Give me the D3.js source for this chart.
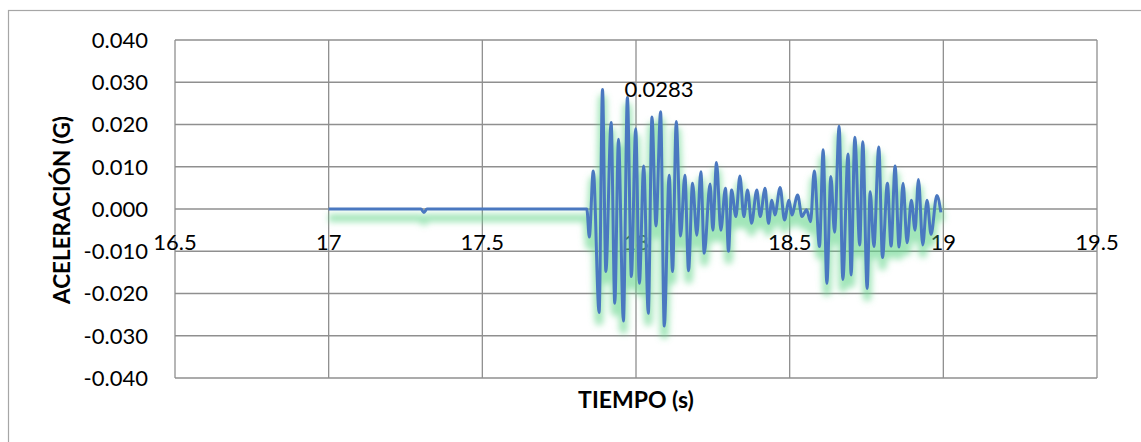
<!DOCTYPE html>
<html>
<head>
<meta charset="utf-8">
<script src="https://cdn.jsdelivr.net/npm/d3@7/dist/d3.min.js"></script>
<style>
html,body{margin:0;padding:0;background:#fff;}
svg{display:block;}
text{font-family:Lato,"Open Sans",sans-serif;fill:#000;}
</style>
</head>
<body>
<svg id="chart" width="1141" height="442"></svg>
<script>
// ---- data ----
const time = [17.000,17.300,17.310,17.320,17.840,17.848,17.861,17.880,17.891,17.902,17.919,17.931,17.943,17.959,17.972,17.985,17.999,18.011,18.025,18.040,18.052,18.065,18.080,18.092,18.108,18.119,18.131,18.145,18.159,18.171,18.184,18.198,18.211,18.222,18.241,18.250,18.262,18.276,18.291,18.301,18.311,18.325,18.338,18.351,18.363,18.376,18.393,18.404,18.420,18.431,18.442,18.452,18.469,18.483,18.498,18.507,18.526,18.540,18.555,18.568,18.580,18.597,18.609,18.621,18.634,18.646,18.661,18.673,18.690,18.700,18.712,18.728,18.738,18.752,18.762,18.774,18.790,18.802,18.818,18.830,18.843,18.856,18.869,18.882,18.896,18.908,18.919,18.933,18.947,18.960,18.979,18.992];
const accel = [0,0,-0.0008,0,0,-0.0066,0.0090,-0.0245,0.0283,-0.0148,0.0205,-0.0223,0.0165,-0.0265,0.0264,-0.0160,0.0190,-0.0176,0.0102,-0.0247,0.0218,-0.0040,0.0230,-0.0277,0.0080,-0.0148,0.0207,-0.0064,0.0080,-0.0146,0.0061,-0.0062,0.0088,-0.0105,0.0059,-0.0050,0.0110,-0.0050,0.0049,-0.0100,0.0045,-0.0018,0.0078,-0.0018,0.0045,-0.0034,0.0045,-0.0018,0.0049,-0.0034,0.0021,-0.0014,0.0051,-0.0026,0.0021,-0.0014,0.0033,-0.0018,-0.0002,-0.0030,0.0090,-0.0089,0.0140,-0.0176,0.0077,-0.0055,0.0196,-0.0167,0.0130,-0.0156,0.0170,-0.0085,0.0159,-0.0188,0.0041,-0.0089,0.0147,-0.0115,0.0061,-0.0088,0.0102,-0.0090,0.0061,-0.0080,0.0021,-0.0050,0.0070,-0.0085,0.0021,-0.0060,0.0032,-0.0008];
const xTicks = [16.5,17,17.5,18,18.5,19,19.5];
const xTickLabels = ["16.5","17","17.5","18","18.5","19","19.5"];
const yTicks = [-0.04,-0.03,-0.02,-0.01,0,0.01,0.02,0.03,0.04];
const yTickLabels = ["-0.040","-0.030","-0.020","-0.010","0.000","0.010","0.020","0.030","0.040"];
const xTitle = "TIEMPO (s)";
const yTitle = "ACELERACIÓN (G)";
const peakLabel = "0.0283";

// ---- layout ----
const svg = d3.select("#chart");
const L = 175, R = 1097, T = 40, B = 378;
const x = d3.scaleLinear().domain([16.5,19.5]).range([L,R]);
const y = d3.scaleLinear().domain([-0.04,0.04]).range([B,T]);
const grid = "#8f8f8f";

// outer chart frame
svg.append("rect").attr("x",8.5).attr("y",10.5).attr("width",1200).attr("height",500)
  .attr("fill","#fff").attr("stroke","#a6a6a6").attr("stroke-width",1.2);

// blur filter for green shadow
const defs = svg.append("defs");
defs.append("filter").attr("id","blur").attr("x","-10%").attr("y","-30%").attr("width","120%").attr("height","160%")
  .append("feGaussianBlur").attr("stdDeviation",3);

// gridlines
const g = svg.append("g");
g.selectAll("line.h").data(yTicks).join("line")
  .attr("x1",L).attr("x2",R).attr("y1",d=>y(d)).attr("y2",d=>y(d))
  .attr("stroke",grid).attr("stroke-width",1.3);
g.selectAll("line.v").data(xTicks).join("line").attr("class","v")
  .attr("y1",T).attr("y2",B).attr("x1",d=>x(d)).attr("x2",d=>x(d))
  .attr("stroke",grid).attr("stroke-width",1.3);

// y tick labels
svg.append("g").selectAll("text").data(yTicks).join("text")
  .attr("x",148).attr("y",d=>y(d)).attr("dy","0.36em")
  .attr("text-anchor","end").style("font-size","22px")
  .text((d,i)=>yTickLabels[i]);

// x tick labels (axis crosses at 0)
svg.append("g").selectAll("text").data(xTicks).join("text")
  .attr("x",d=>x(d)).attr("y",y(0)+41)
  .attr("text-anchor","middle").style("font-size","22px")
  .text((d,i)=>xTickLabels[i]);

// line + green shadow
const pts = time.map((t,i)=>[t,accel[i]]);
const line = d3.line().x(d=>x(d[0])).y(d=>y(d[1])).curve(d3.curveMonotoneX);
svg.append("path").datum(pts).attr("d",line)
  .attr("transform","translate(0,9)")
  .attr("fill","none").attr("stroke","#62d68a").attr("stroke-opacity",0.6).attr("stroke-width",8)
  .attr("stroke-linejoin","round").attr("filter","url(#blur)");
svg.append("path").datum(pts).attr("d",line)
  .attr("fill","none").attr("stroke","#4a78c0").attr("stroke-width",3)
  .attr("stroke-linejoin","round");

// peak label
const imax = d3.maxIndex(accel);
svg.append("text").attr("x",x(time[imax])+22).attr("y",y(accel[imax])).attr("dy","0.36em")
  .style("font-size","22px").text(peakLabel);

// axis titles
svg.append("text").attr("x",636).attr("y",408).attr("text-anchor","middle")
  .style("font-size","23px").style("font-weight","bold").text(xTitle);
svg.append("text").attr("transform","translate(70,210) rotate(-90)").attr("text-anchor","middle")
  .style("font-size","22.5px").style("font-weight","bold").text(yTitle);
</script>
</body>
</html>
